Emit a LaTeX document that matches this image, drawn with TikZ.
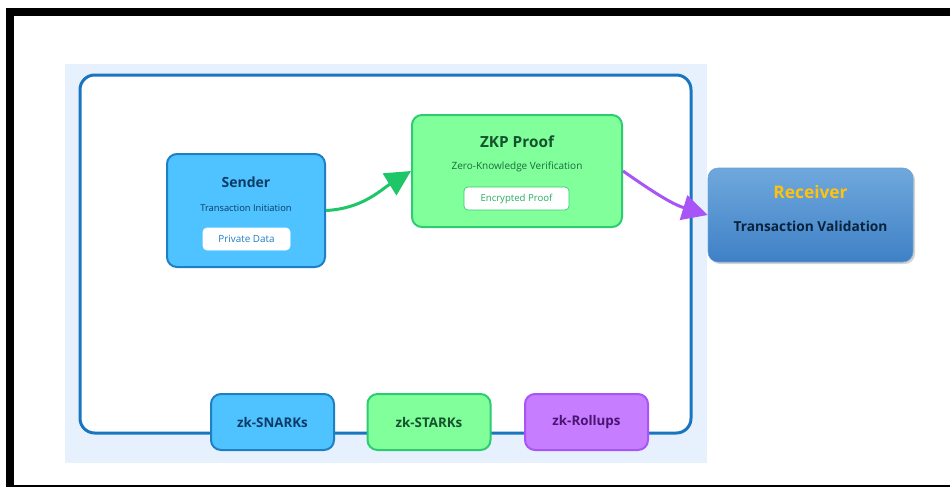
\documentclass[tikz,border=0pt]{standalone}
\usepackage{fontspec}
\setmainfont{Open Sans}
\usetikzlibrary{arrows.meta}
\usetikzlibrary{positioning}
\usetikzlibrary{shadows}

\definecolor{panelbg}{HTML}{E6F1FD}
\definecolor{panelline}{HTML}{1A75C0}
\definecolor{snd}{HTML}{4FC3FF}
\definecolor{sndline}{HTML}{1E7FC4}
\definecolor{sndtext}{HTML}{0D3B66}
\definecolor{zkp}{HTML}{80FF9B}
\definecolor{zkpline}{HTML}{2ECC71}
\definecolor{zkptext}{HTML}{14532D}
\definecolor{roll}{HTML}{C77DFF}
\definecolor{rollline}{HTML}{A855F7}
\definecolor{rolltext}{HTML}{4A1472}
\definecolor{rcvtop}{HTML}{6FA8DC}
\definecolor{rcvbot}{HTML}{3F80C6}
\definecolor{gold}{HTML}{FFC20E}
\definecolor{arrgreen}{HTML}{1DC768}

\tikzset{
  box/.style={rounded corners=7.5pt, line width=1.5pt},
  tag/.style={rounded corners=3pt, fill=white, draw=#1, line width=0.5pt,
              minimum width=65.25pt, minimum height=16.5pt, inner sep=0pt,
              font=\fontsize{7.4}{8}\selectfont},
  title/.style={font=\bfseries\fontsize{10.5}{12}\selectfont},
  sub/.style={font=\fontsize{7}{8}\selectfont},
  chip/.style={box, minimum width=92.25pt, minimum height=42pt,
               font=\bfseries\fontsize{10}{11}\selectfont},
  flow/.style={line width=2.25pt, -{Triangle[length=19pt,width=19pt]}},
}

\begin{document}
\begin{tikzpicture}[x=0.75pt,y=-0.75pt]
\useasboundingbox (0,0) rectangle (950,486);
\clip (0,0) rectangle (950,486);

% outer frame and panel
\draw[line width=6pt] (9.5,12) rectangle (955,489);
\fill[panelbg] (65,64) rectangle (707,463);
\draw[panelline, fill=white, line width=2.25pt, rounded corners=11pt] (80,75) rectangle (691,433);

% main boxes
\node[box, fill=snd, draw=sndline, minimum width=118.5pt, minimum height=84.75pt] (sender) at (246,210.5) {};
\node[box, fill=zkp, draw=zkpline, minimum width=157.5pt, minimum height=84pt] (proof) at (517,171) {};
\node[box, top color=rcvtop, bottom color=rcvbot, draw=rcvtop!80!rcvbot, line width=0.4pt,
      drop shadow={opacity=0.35, shadow xshift=1.5pt, shadow yshift=-1.5pt},
      minimum width=153.75pt, minimum height=70.5pt] (receiver) at (810.5,215) {};

\begin{scope}
    \node[title, text=sndtext] (sendertitle) at (246,182) {Sender};
    \node[sub, text=sndtext] (sendersub) at (246,208) {Transaction Initiation};
    \node[tag=white, text=sndline] (private) at (246.5,239) {Private Data};
\end{scope}

\begin{scope}
    \node[title, text=zkptext, font=\bfseries\fontsize{11.5}{13}\selectfont] (prooftitle) at (517,142) {ZKP Proof};
    \node[sub, text=zkptext!80!zkpline, font=\fontsize{7.5}{9}\selectfont] (proofsub) at (517,167) {Zero-Knowledge Verification};
    \node[tag=zkpline, text=zkpline!85!black, minimum width=78.75pt, minimum height=17.25pt,
          font=\fontsize{7.2}{8}\selectfont] (encrypted) at (516.5,198.5) {Encrypted Proof};
\end{scope}

\begin{scope}
    \node[text=gold, font=\bfseries\fontsize{13}{15}\selectfont] (rcvtitle) at (810.5,192) {Receiver};
    \node[text=sndtext!60!black, font=\bfseries\fontsize{10.3}{12}\selectfont] (rcvsub) at (810.5,226) {Transaction Validation};
\end{scope}

% protocol chips on the panel edge
\node[chip, fill=snd, draw=sndline, text=sndtext] (snarks) at (272.5,422) {zk-SNARKs};
\node[chip, fill=zkp, draw=zkpline, text=zkptext] (starks) at (429,422) {zk-STARKs};
\node[chip, fill=roll, draw=rollline, text=rolltext] (rollups) at (586.5,422) {zk-Rollups};

% flow arrows
\draw[flow, arrgreen] (sender.east) to[out=3, in=212] (proof.west);
\draw[flow, rollline] (proof.east) to[out=-35, in=163] (receiver.west);
\end{tikzpicture}
\end{document}
